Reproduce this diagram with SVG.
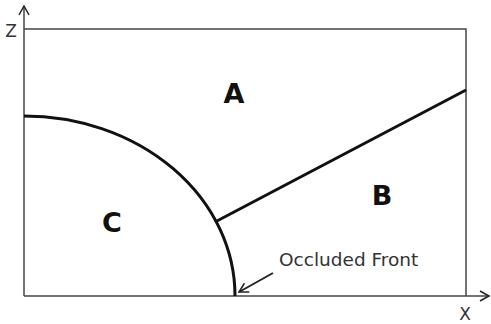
<svg xmlns="http://www.w3.org/2000/svg" width="491" height="324" viewBox="0 0 491 324">
<style>
.ax{stroke:#444;stroke-width:1.5;fill:none}
.bd{stroke:#111;stroke-width:3;fill:none}
.lbl{font-family:"DejaVu Sans",sans-serif;font-weight:bold;font-size:27px;fill:#111;text-anchor:middle}
.t{font-family:"DejaVu Sans",sans-serif;font-size:17px;fill:#333}
.occ{font-size:18.5px}
</style>
<defs>
<marker id="ah" markerWidth="12" markerHeight="12" refX="10" refY="6" orient="auto" markerUnits="userSpaceOnUse">
<path d="M1,1 L10,6 L1,11" fill="none" stroke="#222" stroke-width="1.5"/>
</marker>
</defs>
<g id="connectors">
<line class="ax" x1="24" y1="296" x2="24" y2="6" marker-end="url(#ah)"/>
<line class="ax" x1="24" y1="296" x2="489" y2="296" marker-end="url(#ah)"/>
<polyline class="ax" points="24,29 466,29 466,296"/>
<path class="bd" d="M24,116 A211,180 0 0 1 235,296"/>
<line class="bd" x1="215" y1="222" x2="466" y2="90"/>
<line x1="273" y1="273" x2="239" y2="292" stroke="#222" stroke-width="2" marker-end="url(#ah)"/>
</g>
<g id="axis-z"><text class="t" x="11" y="37" text-anchor="middle">Z</text></g>
<g id="axis-x"><text class="t" x="465" y="320" text-anchor="middle">X</text></g>
<g id="A"><text class="lbl" x="234" y="103">A</text></g>
<g id="B"><text class="lbl" x="382" y="205">B</text></g>
<g id="C"><text class="lbl" x="112" y="232">C</text></g>
<g id="occluded"><text class="t occ" x="279" y="266">Occluded Front</text></g>
</svg>
